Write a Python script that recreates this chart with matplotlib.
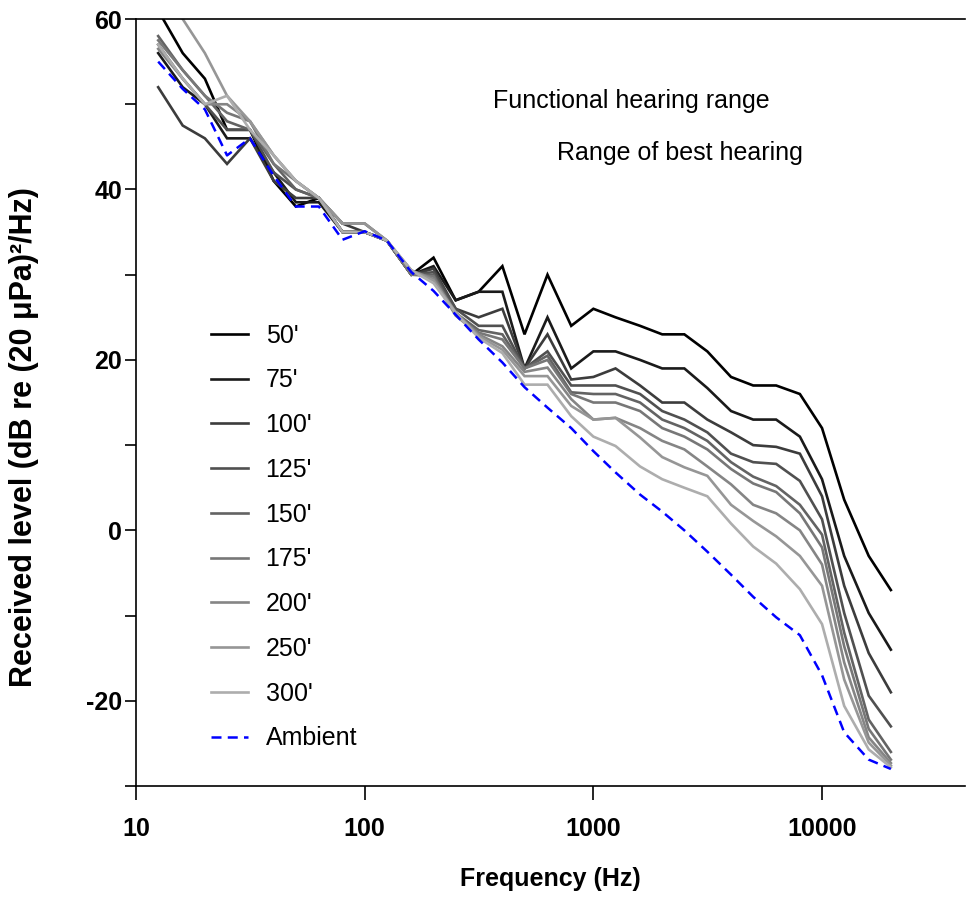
import numpy as np
import matplotlib
matplotlib.use("Agg")
import matplotlib.pyplot as plt
import matplotlib.ticker as ticker

plt.rcParams["font.family"] = ["Liberation Sans", "DejaVu Sans"]

# 1/3-octave band centre frequencies (Hz)
freqs = [12.5, 16, 20, 25, 31.5, 40, 50, 63, 80, 100, 125, 160, 200, 250, 315,
         400, 500, 630, 800, 1000, 1250, 1600, 2000, 2500, 3150, 4000, 5000,
         6300, 8000, 10000, 12500, 16000, 20000]

labels = ["50'", "75'", "100'", "125'", "150'", "175'", "200'", "250'", "300'"]

lvl_50 = [61, 56, 53, 47, 47, 41, 38, 39, 35, 35, 34, 30, 32, 27, 28, 31, 23, 30,
          24, 26, 25, 24, 23, 23, 21, 18, 17, 17, 16, 12, 3.6, -3, -7]
lvl_75 = [56, 52, 50, 46, 46, 42, 38.5, 38.5, 35, 35, 34, 30, 31, 27, 28, 28, 19, 25,
          19, 21, 21, 20, 19, 19, 16.7, 14, 13, 13, 11, 6, -3, -9.7, -14]
lvl_100 = [52, 47.5, 46, 43, 46, 41, 39, 39, 36, 35, 34, 30, 30.7, 26, 25, 26, 19, 23,
           17.7, 18, 19, 17, 15, 15, 13, 11.5, 10, 9.8, 9, 4, -6.5, -14.4, -19]
lvl_125 = [57, 53, 50, 47, 47, 42, 40, 39, 35, 35, 34, 30, 30.3, 26, 24, 24, 19, 21,
           17, 17, 17, 16, 14, 13, 11.5, 9, 8, 7.8, 5.8, 1.3, -9.7, -19.4, -23]
lvl_150 = [58, 54, 51, 48, 47, 43, 40, 39, 35, 35, 34, 30, 30, 25.5, 23.5, 23, 19, 20.5,
           16.2, 16, 16, 15, 13, 12, 10.5, 8, 6.3, 5.2, 3, -0.5, -12, -22.2, -26]
lvl_175 = [57.5, 54, 51, 49, 48, 43, 41, 39, 36, 36, 34, 30, 29.8, 25.3, 23.2, 22.4, 19, 20,
           16, 15, 15, 14, 12, 11, 9.5, 7.2, 5.5, 4.5, 2, -2, -13.6, -23.3, -26.9]
lvl_200 = [56.5, 53, 50, 50, 48, 44, 41, 39, 36, 36, 34, 30.5, 29.5, 25.2, 23, 21.6, 18.6, 19.1,
           15.4, 13, 13.2, 12, 10.5, 9.5, 7.5, 5.4, 3, 2, 0, -4, -15.5, -24.3, -27.3]
lvl_250 = [65, 60, 56, 51, 48, 44, 41, 39, 36, 36, 34, 30.5, 29.3, 25.6, 22.8, 21.2, 18.1, 18.1,
           14.6, 13, 13.2, 10.9, 8.6, 7.4, 6.4, 3, 1.1, -0.7, -3, -6.5, -17.5, -24.9, -27.6]
lvl_300 = [57, 53, 50, 51, 47, 44, 41, 39, 35, 35, 34, 30.5, 29, 25.5, 22.6, 20.8, 17.1, 17.1,
           13.4, 11, 9.9, 7.5, 6, 5, 4, 0.8, -1.9, -3.9, -6.9, -11, -20.6, -25.7, -27.8]
ambient = [55, 51.8, 49.4, 44, 46, 41.6, 38, 38, 34.1, 35.1, 34, 30.3, 28.1, 25.3, 22.4, 19.7,
           16.8, 14.4, 12, 9.3, 6.8, 4.2, 2.2, 0, -2.5, -5.2, -7.8, -10.2, -12.3, -17, -23.7,
           -26.9, -28]

series = [lvl_50, lvl_75, lvl_100, lvl_125, lvl_150, lvl_175, lvl_200, lvl_250, lvl_300]
greys = ["#000000", "#1a1a1a", "#3c3c3c", "#505050", "#636363",
         "#777777", "#858585", "#969696", "#adadad"]

fig = plt.figure(figsize=(9.69, 8.98), dpi=100)
ax = fig.add_axes([0.1404, 0.1247, 0.855, 0.8541])

for vals, col, lab in zip(series, greys, labels):
    ax.plot(freqs, vals, color=col, lw=1.9, label=lab, solid_joinstyle="miter")
ax.plot(freqs, ambient, color="#0000ff", lw=1.8, ls=(0, (4, 2.5)), label="Ambient")

ax.set_xscale("log")
ax.set_xlim(10, 42000)
ax.set_ylim(-30, 60)

ax.xaxis.set_major_locator(ticker.FixedLocator([10, 100, 1000, 10000]))
ax.xaxis.set_major_formatter(ticker.FixedFormatter(["10", "100", "1000", "10000"]))
ax.xaxis.set_minor_locator(ticker.NullLocator())
ax.yaxis.set_major_locator(ticker.MultipleLocator(10))
ax.yaxis.set_major_formatter(ticker.FuncFormatter(
    lambda v, p: f"{int(v)}" if int(round(v)) % 20 == 0 else ""))

ax.tick_params(axis="both", direction="out", width=1.2, labelsize=18)
ax.tick_params(axis="x", length=10, pad=12)
ax.tick_params(axis="y", length=8, pad=2)
for t in ax.get_xticklabels() + ax.get_yticklabels():
    t.set_fontweight("bold")

ax.spines["right"].set_visible(False)
for s in ("left", "bottom", "top"):
    ax.spines[s].set_linewidth(1.2)

ax.set_xlabel("Frequency (Hz)", fontsize=18, fontweight="bold")
ax.xaxis.set_label_coords(0.5, -0.106)
ax.set_ylabel("Received level (dB re (20 \u03bcPa)\u00b2/Hz)", fontsize=22,
              fontweight="bold")
ax.yaxis.set_label_coords(-0.117, 0.455)

ax.text(0.431, 0.893, "Functional hearing range", transform=ax.transAxes,
        fontsize=18, ha="left", va="center")
ax.text(0.508, 0.825, "Range of best hearing", transform=ax.transAxes,
        fontsize=18, ha="left", va="center")

ax.legend(loc="upper left", bbox_to_anchor=(0.09, 0.603), frameon=False,
          fontsize=18, handlelength=1.5, handletextpad=0.7, labelspacing=0.83,
          borderpad=0, borderaxespad=0)

fig.savefig("out.png", dpi=100)
